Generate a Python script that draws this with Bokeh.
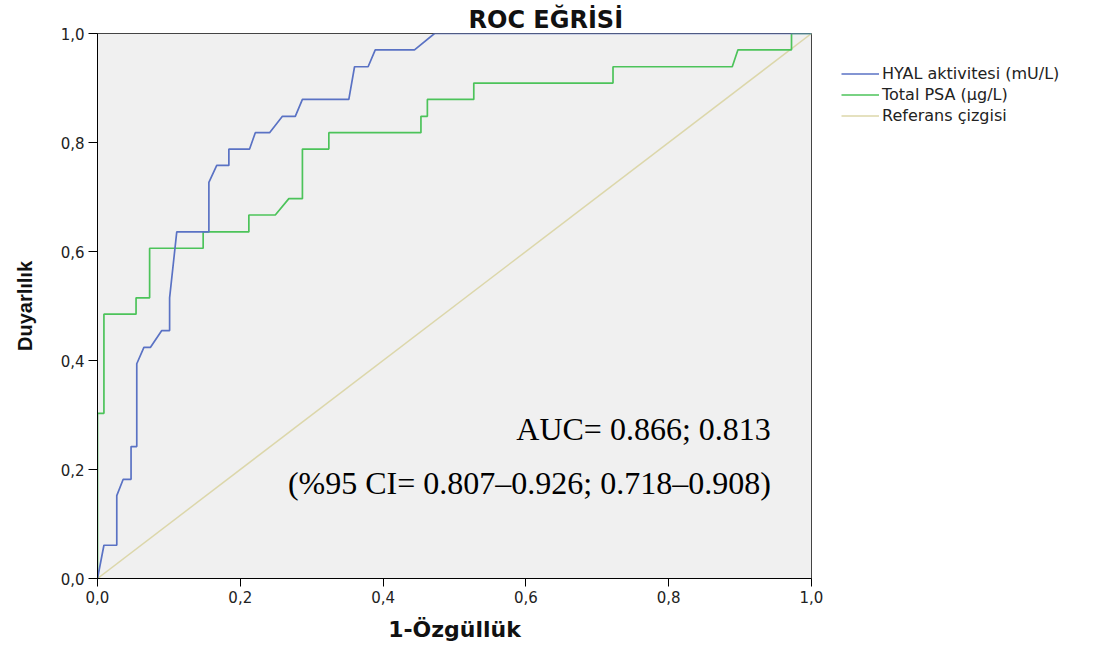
from bokeh.plotting import figure
from bokeh.models import Legend, LegendItem, Label, CustomJSTickFormatter, FixedTicker, Range1d
from bokeh.embed import file_html
from bokeh.resources import INLINE

# ROC curve coordinates (1 - specificity, sensitivity)
hyal_fpr = [0.0, 0.009, 0.027, 0.027, 0.036, 0.047, 0.047, 0.055, 0.055, 0.065, 0.074, 0.090,
            0.101, 0.101, 0.111, 0.156, 0.156, 0.167, 0.184, 0.184, 0.213, 0.221, 0.241, 0.259,
            0.277, 0.287, 0.352, 0.360, 0.379, 0.389, 0.444, 0.472, 1.0]
hyal_tpr = [0.0, 0.061, 0.061, 0.152, 0.182, 0.182, 0.242, 0.242, 0.394, 0.424, 0.424, 0.455,
            0.455, 0.515, 0.636, 0.636, 0.727, 0.758, 0.758, 0.788, 0.788, 0.818, 0.818, 0.848,
            0.848, 0.879, 0.879, 0.939, 0.939, 0.970, 0.970, 1.0, 1.0]

psa_fpr = [0.0, 0.0, 0.009, 0.009, 0.054, 0.054, 0.073, 0.073, 0.148, 0.148, 0.212, 0.212,
           0.249, 0.268, 0.287, 0.287, 0.324, 0.324, 0.453, 0.453, 0.462, 0.462, 0.527, 0.527,
           0.722, 0.722, 0.889, 0.897, 0.972, 0.972, 1.0]
psa_tpr = [0.0, 0.303, 0.303, 0.485, 0.485, 0.515, 0.515, 0.606, 0.606, 0.636, 0.636, 0.667,
           0.667, 0.697, 0.697, 0.788, 0.788, 0.818, 0.818, 0.848, 0.848, 0.879, 0.879, 0.909,
           0.909, 0.939, 0.939, 0.970, 0.970, 1.0, 1.0]

ref_x = [0.0, 1.0]
ref_y = [0.0, 1.0]

series_names = ["HYAL aktivitesi (mU/L)", "Total PSA (µg/L)", "Referans çizgisi"]
ticks = [0.0, 0.2, 0.4, 0.6, 0.8, 1.0]

title_text = "ROC EĞRİSİ"
auc_text = "AUC= 0.866; 0.813"
ci_text = "(%95 CI= 0.807–0.926; 0.718–0.908)"

p = figure(frame_width=714, frame_height=545, output_backend="svg", toolbar_location=None,
           x_range=Range1d(0, 1), y_range=Range1d(0, 1),
           min_border_left=97, min_border_right=0, min_border_top=33, min_border_bottom=75)
p.background_fill_color = "#f0f0f0"
p.border_fill_color = "white"
p.outline_line_color = "#444444"
p.grid.visible = False

p.title.text = title_text
p.title.align = "left"
p.title.offset = 371
p.title.standoff = 0
p.title.text_font = "DejaVu Sans"
p.title.text_font_style = "bold"
p.title.text_font_size = "24px"
p.title.text_color = "#111111"

fmt = CustomJSTickFormatter(code="return tick.toFixed(1).replace('.', ',');")
for ax in (p.xaxis[0], p.yaxis[0]):
    ax.ticker = FixedTicker(ticks=ticks)
    ax.formatter = fmt
    ax.axis_line_color = "black"
    ax.major_tick_line_color = "black"
    ax.major_tick_in = 0
    ax.minor_tick_line_color = None
    ax.major_label_text_font = "DejaVu Sans"
    ax.major_label_text_font_size = "15px"
    ax.major_label_text_color = "#222222"
    ax.axis_label_text_font_style = "bold"
    ax.axis_label_text_color = "#111111"

p.xaxis.major_tick_out = 8
p.yaxis.major_tick_out = 9

p.xaxis.axis_label = "1-Özgüllük"
p.xaxis.axis_label_text_font = "DejaVu Sans"
p.xaxis.axis_label_text_font_size = "22px"
p.xaxis.axis_label_standoff = 11
p.xaxis.major_label_standoff = 4

p.yaxis.axis_label = "Duyarlılık"
p.yaxis.axis_label_text_font = "Liberation Sans"
p.yaxis.axis_label_text_font_size = "20px"
p.yaxis.axis_label_standoff = 22
p.yaxis.major_label_standoff = 4

r_ref = p.line(ref_x, ref_y, line_color="#dcd7aa", line_width=1.5)
r_psa = p.line(psa_fpr, psa_tpr, line_color="#4cc35a", line_width=1.7)
r_hyal = p.line(hyal_fpr, hyal_tpr, line_color="#5a72c4", line_width=1.7)

legend = Legend(items=[LegendItem(label=series_names[0], renderers=[r_hyal]),
                       LegendItem(label=series_names[1], renderers=[r_psa]),
                       LegendItem(label=series_names[2], renderers=[r_ref])],
                location="top_left", glyph_width=38, glyph_height=21, label_height=21,
                label_standoff=3, spacing=0, padding=0, margin=30,
                border_line_color=None, background_fill_alpha=0,
                label_text_font="DejaVu Sans", label_text_font_size="16px",
                label_text_color="#222222")
p.add_layout(legend, "right")

p.add_layout(Label(x=0.943, y=0.275, text=auc_text, text_align="right", text_baseline="middle",
                   text_font="Liberation Serif", text_font_size="32px", text_color="black"))
p.add_layout(Label(x=0.943, y=0.176, text=ci_text, text_align="right", text_baseline="middle",
                   text_font="Liberation Serif", text_font_size="32px", text_color="black"))

open("out.html", "w").write(file_html(p, INLINE))
